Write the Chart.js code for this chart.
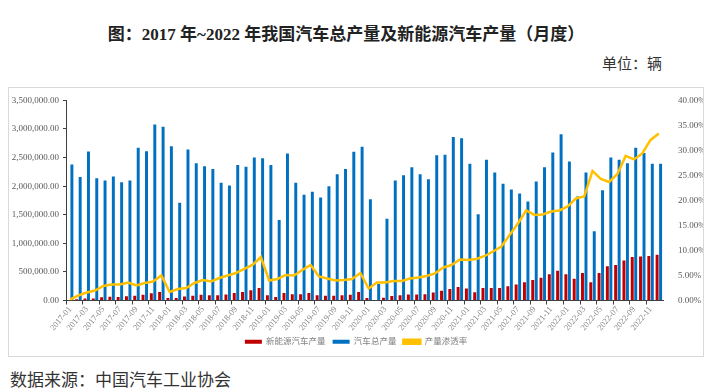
<!DOCTYPE html>
<html>
<head>
<meta charset="utf-8">
<script src="https://cdn.jsdelivr.net/npm/chart.js@4"></script>
<style>
  body { margin: 0; width: 712px; height: 392px; background: #fff; position: relative; overflow: hidden;
         font-family: "Liberation Serif", "Noto Sans CJK SC", serif; color: #222; }
  #title { position: absolute; top: 20px; left: 0; width: 692px; text-align: center; font-size: 17px; font-weight: bold; }
  #unit { position: absolute; top: 52px; right: 50px; font-size: 15px; color: #333; }
  #box { position: absolute; left: 8px; top: 87px; width: 694px; height: 268px; border: 1px solid #d9d9d9; }
  #box canvas { position: absolute; left: 0; top: 0; }
  #source { position: absolute; left: 10px; top: 366px; font-size: 17px; color: #333; }
</style>
</head>
<body>
<div id="title">图：2017 年~2022 年我国汽车总产量及新能源汽车产量（月度）</div>
<div id="unit">单位：辆</div>
<div id="box"><canvas id="c" width="694" height="268"></canvas></div>
<div id="source">数据来源：中国汽车工业协会</div>
<script>
// 月份
const months = [
  '2017-01','2017-02','2017-03','2017-04','2017-05','2017-06','2017-07','2017-08','2017-09','2017-10','2017-11','2017-12',
  '2018-01','2018-02','2018-03','2018-04','2018-05','2018-06','2018-07','2018-08','2018-09','2018-10','2018-11','2018-12',
  '2019-01','2019-02','2019-03','2019-04','2019-05','2019-06','2019-07','2019-08','2019-09','2019-10','2019-11','2019-12',
  '2020-01','2020-02','2020-03','2020-04','2020-05','2020-06','2020-07','2020-08','2020-09','2020-10','2020-11','2020-12',
  '2021-01','2021-02','2021-03','2021-04','2021-05','2021-06','2021-07','2021-08','2021-09','2021-10','2021-11','2021-12',
  '2022-01','2022-02','2022-03','2022-04','2022-05','2022-06','2022-07','2022-08','2022-09','2022-10','2022-11','2022-12'
];

// 新能源汽车产量
const nevOutput = [
  10000, 20000, 35000, 35000, 55000, 65000, 60000, 75000, 85000, 100000, 125000, 150000,
  45000, 45000, 70000, 85000, 100000, 90000, 90000, 105000, 130000, 150000, 180000, 220000,
  90000, 60000, 130000, 110000, 110000, 130000, 90000, 85000, 85000, 90000, 100000, 150000,
  45000, 10000, 50000, 80000, 90000, 105000, 105000, 110000, 140000, 170000, 200000, 235000,
  210000, 145000, 220000, 220000, 220000, 250000, 280000, 320000, 360000, 400000, 460000, 520000,
  460000, 380000, 480000, 320000, 480000, 600000, 620000, 700000, 760000, 770000, 780000, 800000
];

// 汽车总产量
const totalOutput = [
  2380000, 2160000, 2605000, 2140000, 2100000, 2170000, 2070000, 2100000, 2670000, 2610000, 3080000, 3040000,
  2700000, 1710000, 2640000, 2400000, 2350000, 2300000, 2060000, 2010000, 2370000, 2340000, 2500000, 2490000,
  2370000, 1410000, 2570000, 2060000, 1850000, 1900000, 1800000, 2000000, 2210000, 2300000, 2600000, 2690000,
  1770000, 290000, 1430000, 2100000, 2190000, 2330000, 2210000, 2120000, 2540000, 2550000, 2860000, 2840000,
  2390000, 1510000, 2460000, 2240000, 2040000, 1940000, 1870000, 1730000, 2080000, 2330000, 2590000, 2910000,
  2430000, 1820000, 2240000, 1210000, 1930000, 2500000, 2460000, 2400000, 2670000, 2580000, 2390000, 2390000
];

// 产量渗透率 (%)
const penetration = [
  0.2, 1.0, 1.6, 2.0, 2.9, 3.2, 3.2, 3.6, 3.0, 3.5, 3.8, 5.0,
  1.7, 2.3, 2.5, 3.5, 4.1, 3.8, 4.5, 5.0, 5.5, 6.3, 7.1, 8.7,
  4.0, 4.3, 5.1, 5.0, 6.1, 7.1, 4.8, 4.4, 4.0, 4.1, 4.3, 5.5,
  2.4, 3.6, 3.6, 3.9, 3.9, 4.4, 4.6, 4.9, 5.4, 6.6, 7.1, 8.2,
  8.1, 8.3, 8.9, 9.8, 10.8, 13.1, 15.4, 18.0, 17.1, 17.2, 17.8, 18.0,
  18.8, 20.4, 20.8, 25.9, 24.3, 23.7, 25.3, 28.9, 28.2, 29.4, 32.1, 33.4
];

const FONT = '"Liberation Serif", "Noto Sans CJK SC", serif';

new Chart(document.getElementById('c'), {
  data: {
    labels: months,
    datasets: [
      { type: 'bar', label: '新能源汽车产量', data: nevOutput, backgroundColor: '#C00000',
        yAxisID: 'y', order: 1, categoryPercentage: 0.84, barPercentage: 0.85 },
      { type: 'bar', label: '汽车总产量', data: totalOutput, backgroundColor: '#0070C0',
        yAxisID: 'y', order: 1, categoryPercentage: 0.84, barPercentage: 0.85 },
      { type: 'line', label: '产量渗透率', data: penetration, borderColor: '#FFC000', backgroundColor: '#FFC000',
        borderWidth: 2.5, pointRadius: 0, tension: 0, yAxisID: 'y1', order: 0 }
    ]
  },
  options: {
    responsive: false,
    animation: false,
    layout: { padding: { top: 7, left: 0, right: 0, bottom: 0 } },
    scales: {
      x: {
        grid: {
          drawOnChartArea: false, tickLength: 4, offset: true,
          color: ctx => (ctx.index % 2 === 0 ? '#404040' : 'rgba(0,0,0,0)')
        },
        border: { color: '#404040', width: 1 },
        ticks: {
          autoSkip: false, minRotation: 50, maxRotation: 50, padding: 0,
          color: '#7f7f7f', font: { family: FONT, size: 8.5 },
          callback: (v, i) => (i % 2 === 0 ? months[i] : '')
        },
        afterFit: s => { s.height = 30; }
      },
      y: {
        position: 'left', min: 0, max: 3500000,
        grid: { drawOnChartArea: false, tickLength: 3, color: '#404040' },
        border: { color: '#404040', width: 1 },
        ticks: {
          stepSize: 500000, color: '#595959', font: { family: FONT, size: 9 }, padding: 4,
          callback: v => v.toLocaleString('en-US', { minimumFractionDigits: 2, maximumFractionDigits: 2 })
        },
        afterFit: s => { s.width = 57; }
      },
      y1: {
        position: 'right', min: 0, max: 40,
        grid: { display: false },
        border: { display: false },
        ticks: {
          stepSize: 5, color: '#595959', font: { family: FONT, size: 9 }, padding: 7,
          callback: v => v.toFixed(2) + '%'
        },
        afterFit: s => { s.width = 40; }
      }
    },
    plugins: {
      legend: {
        position: 'bottom',
        labels: {
          boxWidth: 17, boxHeight: 4, padding: 7,
          color: '#808080', font: { family: FONT, size: 8.5 },
          sort: (a, b) => a.datasetIndex - b.datasetIndex
        }
      },
      tooltip: { enabled: false }
    }
  }
});
</script>
</body>
</html>
